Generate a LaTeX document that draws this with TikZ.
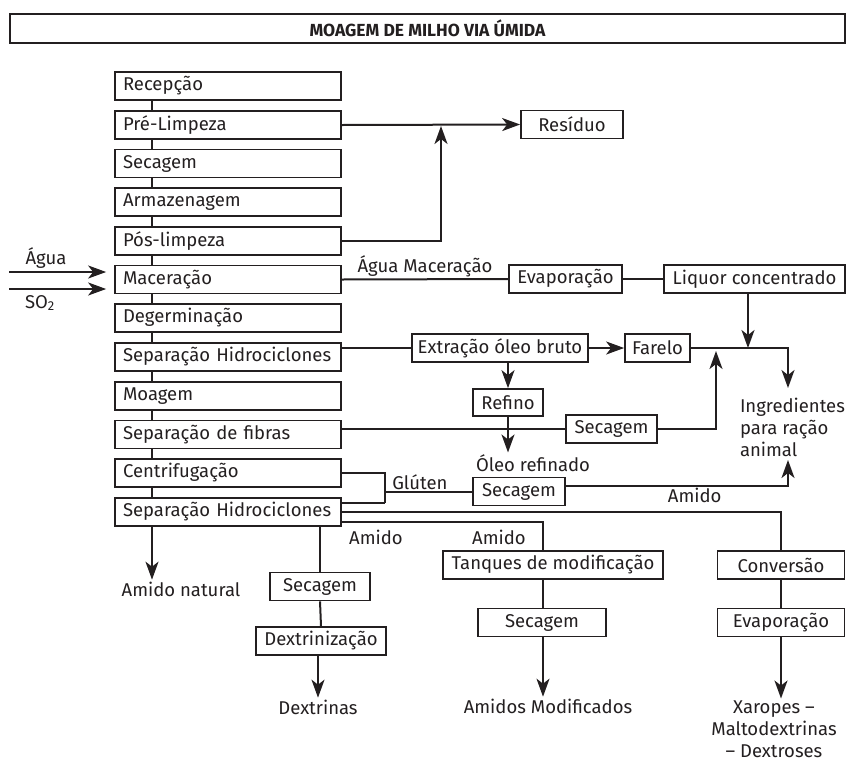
\documentclass[tikz,border=0pt]{standalone}
\usepackage{fontspec}
\setmainfont{Fira Sans}
\usetikzlibrary{arrows.meta}
\tikzset{>={Stealth[length=18pt,width=13pt,inset=5pt]}}
\definecolor{ink}{HTML}{231F20}
\tikzset{
  stage/.style={draw=ink, line width=1.7pt, text width=210pt, inner xsep=8pt, inner ysep=0pt, minimum height=28pt, align=left},
  box/.style={draw=ink, line width=1.7pt, inner xsep=6pt, inner ysep=0pt, minimum height=28pt, align=center},
  txt/.style={inner sep=1pt, align=center}
}

\begin{document}
\begin{tikzpicture}[x=1pt, y=-1pt, color=ink, line width=2pt, font=\fontsize{18.5}{22}\selectfont]
    \useasboundingbox (0,0) rectangle (846,761);
    \node[box, minimum width=835pt, minimum height=29pt] (Titulo) at (427.5,28.5) {\fontsize{17.5}{20}\selectfont\bfseries MOAGEM DE MILHO VIA ÚMIDA};

    \node[stage] (Recepcao) at (228,86) {Recepção};
    \node[stage] (Pre-Limpeza) at (228,125) {Pré-Limpeza};
    \node[stage] (Secagem-0) at (228,163.5) {Secagem};
    \node[stage] (Armazenagem) at (228,202) {Armazenagem};
    \node[stage] (Pos-Limpeza) at (228,241) {Pós-limpeza};
    \node[stage] (Maceracao) at (228,279.5) {Maceração};
    \node[stage] (Degerminacao) at (228,318) {Degerminação};
    \node[stage] (Hidro-0) at (228,357) {Separação Hidrociclones};
    \node[stage] (Moagem) at (228,396) {Moagem};
    \node[stage] (Fibras) at (228,434.5) {Separação de fibras};
    \node[stage] (Centrif) at (228,473) {Centrifugação};
    \node[stage] (Hidro-1) at (228,512) {Separação Hidrociclones};
    \coordinate (Spine) at (152,86);

    \draw (Recepcao.south -| Spine) -- (Pre-Limpeza.north -| Spine);
    \draw (Pre-Limpeza.south -| Spine) -- (Secagem-0.north -| Spine);
    \draw (Secagem-0.south -| Spine) -- (Armazenagem.north -| Spine);
    \draw (Armazenagem.south -| Spine) -- (Pos-Limpeza.north -| Spine);
    \draw (Pos-Limpeza.south -| Spine) -- (Maceracao.north -| Spine);
    \draw (Maceracao.south -| Spine) -- (Degerminacao.north -| Spine);
    \draw (Degerminacao.south -| Spine) -- (Hidro-0.north -| Spine);
    \draw (Hidro-0.south -| Spine) -- (Moagem.north -| Spine);
    \draw (Moagem.south -| Spine) -- (Fibras.north -| Spine);
    \draw (Fibras.south -| Spine) -- (Centrif.north -| Spine);
    \draw (Centrif.south -| Spine) -- (Hidro-1.north -| Spine);

    \coordinate (Agua-In) at (9,272);
    \coordinate (SO2-In) at (9,289);
    \node[txt] (Agua) at (46,258) {Água};
    \node[txt] (SO2) at (40,303) {SO\textsubscript{2}};
    \draw[->, shorten >=8pt] (Agua-In) -- (Agua-In -| Maceracao.west);
    \draw[->, shorten >=8pt] (SO2-In) -- (SO2-In -| Maceracao.west);

    \node[box, minimum width=102pt] (Residuo) at (572,124.5) {Resíduo};
    \coordinate (Residuo-Join) at (441,126);
    \draw[->] (Pre-Limpeza.east) -- (Residuo.west);
    \draw[->] (Pos-Limpeza.east) -| (Residuo-Join);

    \node[box, minimum width=113pt] (Evaporacao-0) at (565.5,279) {Evaporação};
    \node[box, minimum width=181pt] (Liquor) at (754.5,279) {Liquor concentrado};
    \draw (Maceracao.east) -- node[midway, above, txt] {Água Maceração} (Evaporacao-0.west);
    \draw (Evaporacao-0.east) -- (Liquor.west);

    \node[box, minimum width=174pt] (Extracao) at (500,348) {Extração óleo bruto};
    \node[box, minimum width=65pt] (Farelo) at (657.5,348) {Farelo};
    \node[box, minimum width=70pt, minimum height=27pt] (Refino) at (508,402.5) {Refino};
    \node[txt] (Oleo) at (533,463) {Óleo refinado};
    \node[txt, align=left, anchor=west] (Ingredientes) at (738,427) {Ingredientes\\para ração\\animal};
    \coordinate (Liquor-Drop) at (748,348);
    \coordinate (Feed-In) at (788,388);
    \draw (Hidro-0.east |- Extracao) -- (Extracao.west);
    \draw[->] (Extracao.east) -- (Farelo.west);
    \draw[->] (Farelo.east) -| (Feed-In);
    \draw[->] (Liquor.south -| Liquor-Drop) -- (Liquor-Drop);
    \draw[->] (Extracao.south -| Refino) -- (Refino.north);
    \draw[->] (Refino.south) -- (Refino.south |- Oleo.north);

    \node[box, minimum width=91pt] (Secagem-1) at (611.5,429) {Secagem};
    \coordinate (Fibras-Up) at (716,351);
    \draw (Fibras.east |- Secagem-1) -- (Secagem-1.west);
    \draw[->] (Secagem-1.east) -| (Fibras-Up);

    \node[box, minimum width=92pt] (Secagem-2) at (519,491.5) {Secagem};
    \coordinate (Gluten-Join) at (385,503);
    \coordinate (Gluten-Out) at (385,491.5);
    \coordinate (Amido-Up) at (788,460);
    \draw (Centrif.east) -| (Gluten-Join);
    \draw ([yshift=9pt]Hidro-1.east) -- (Gluten-Join);
    \draw (Gluten-Out) -- node[pos=0.4, above, txt] {Glúten} (Secagem-2.west);
    \draw[->] ([yshift=5.5pt]Secagem-2.east) -| node[pos=0.29, below, txt] {Amido} (Amido-Up);

    \node[box, minimum width=220pt] (Tanques) at (553,565) {Tanques de modificação};
    \node[box, minimum width=128pt] (Secagem-3) at (542,622.5) {Secagem};
    \node[txt] (Amidos) at (548,706) {Amidos Modificados};
    \coordinate (Mod-Col) at (543,551);
    \node[txt] (Amido-Mod) at (499,537) {Amido};
    \draw ([yshift=-10pt]Hidro-1.east) -| (Mod-Col);
    \draw (Tanques.south -| Mod-Col) -- (Secagem-3.north -| Mod-Col);
    \draw[->] (Secagem-3.south -| Mod-Col) -- (Amidos.north -| Mod-Col);

    \node[box, minimum width=127pt] (Conversao) at (781,565) {Conversão};
    \node[box, minimum width=127pt] (Evaporacao-1) at (781,622.5) {Evaporação};
    \node[txt] (Xaropes) at (774,729) {Xaropes –\\Maltodextrinas\\– Dextroses};
    \draw (Hidro-1.east) -| (Conversao.north);
    \draw (Conversao.south) -- (Evaporacao-1.north);
    \draw[->] (Evaporacao-1.south) -- (Evaporacao-1.south |- Xaropes.north);

    \node[box, minimum width=100pt] (Secagem-4) at (320,586.5) {Secagem};
    \node[box, minimum width=130pt] (Dextriniz) at (321,641) {Dextrinização};
    \node[txt] (Dextrinas) at (318,707) {Dextrinas};
    \node[txt] (Amido-Dex) at (376,537) {Amido};
    \draw (Hidro-1.south -| Secagem-4) -- (Secagem-4.north);
    \draw (Secagem-4.south) -- (Dextriniz.north);
    \draw[->] (Dextriniz.south -| Dextrinas) -- (Dextrinas.north);

    \node[txt] (Amido-Natural) at (181,589) {Amido natural};
    \draw[->] (Hidro-1.south -| Spine) -- (Spine |- Amido-Natural.north);
\end{tikzpicture}
\end{document}
